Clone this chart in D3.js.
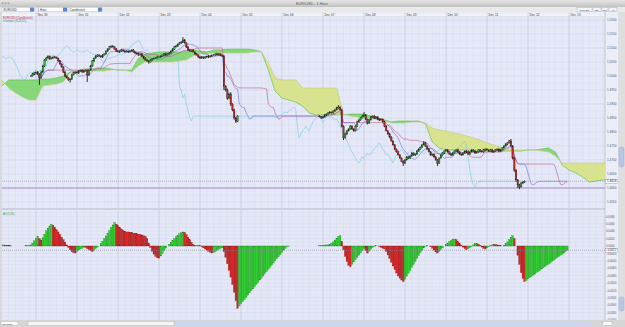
<!DOCTYPE html><html><meta charset="UTF-8">
<title>EUR/USD - 1 Hour</title>
<style>
body { margin: 0; overflow: hidden; background: #fff; }
text { font-family: "Liberation Sans", "DejaVu Sans", sans-serif; }
</style>
<script src="https://cdn.jsdelivr.net/npm/d3@7/dist/d3.min.js"></script>
<svg width="625" height="327"></svg>
<script>

// EUR/USD 1 hour, prices in pips above 1.4000, hours counted from Nov 29 2009 00:00 (GMT)
var week1Start = 21;
var week1Close = [
  1000,1007,1011,1014,1007,993,1014,1036,1057,1064,1071,1061,
  1064,1068,1066,1064,1054,1043,1032,1014,1000,993,986,989,
  1004,1011,1014,1011,1018,1021,1014,1018,1021,1004,1021,1036,
  1054,1064,1071,1075,1071,1068,1075,1079,1089,1096,1104,1107,
  1104,1096,1089,1086,1089,1093,1089,1086,1089,1086,1089,1093,
  1086,1082,1079,1075,1079,1071,1064,1057,1054,1050,1057,1061,
  1064,1064,1068,1068,1071,1075,1079,1075,1079,1082,1089,1096,
  1104,1107,1114,1118,1121,1129,1118,1104,1093,1089,1093,1086,
  1079,1075,1068,1064,1068,1064,1068,1071,1068,1071,1075,1075,
  1079,1075,1079,1075,1071,964,950,921,936,900,879,850,
  839,857];
var week1Up = [
  3,4,3,2,4,3,5,4,3,4,3,2, 3,2,4,3,2,3,2,3,4,2,3,3,
  4,3,2,4,3,2,3,4,2,3,3,4, 3,2,4,3,2,4,3,2,3,4,3,2,
  3,2,4,3,2,3,2,4,3,2,3,2, 3,2,3,4,2,3,2,3,4,2,3,2,
  2,3,4,2,3,2,3,4,2,3,3,4, 3,4,2,3,4,10,3,2,3,4,2,3,
  2,3,2,4,3,2,3,2,4,3,2,3, 2,4,3,2,3,4,3,5,4,6,3,4,
  4,3];
var week1Down = [
  3,2,4,3,2,25,3,2,4,3,2,3, 2,3,3,2,4,3,2,3,4,2,3,9,
  3,2,3,2,4,3,2,3,2,25,3,2, 3,4,2,3,2,3,4,2,3,3,2,4,
  3,2,3,2,4,3,2,3,2,4,3,2, 3,4,2,3,2,3,4,2,3,6,2,3,
  2,3,2,4,3,2,3,4,2,3,2,3, 3,2,3,2,4,3,2,4,3,2,3,2,
  3,2,4,3,2,3,2,3,4,2,3,2, 3,2,3,4,3,14,5,6,4,7,5,6,
  7,4];

var week2Start = 190;
var week2Close = [
  854,850,854,861,864,868,871,868,875,879,886,889,
  879,821,779,793,804,811,821,811,804,821,836,843,
  850,857,861,846,832,843,854,857,850,854,846,843,
  846,836,821,804,793,782,768,754,739,729,718,707,
  696,689,700,711,707,714,725,718,721,732,739,746,
  754,761,750,739,729,718,721,711,700,689,707,718,
  725,732,736,729,721,718,725,732,736,729,721,718,
  725,732,729,721,729,736,732,725,729,736,732,729,
  736,739,736,732,736,729,732,736,739,732,736,743,
  750,757,761,768,750,707,664,629,611,604,618,621,
  624];
var week2Up = [
  3,2,4,3,2,3,4,2,3,3,4,7, 3,4,3,5,3,2,4,3,2,3,4,3,
  3,4,10,3,2,4,3,2,4,3,2,3, 3,2,4,3,2,4,3,2,3,2,4,3,
  2,3,4,3,2,4,3,2,3,4,3,2, 3,7,3,2,4,3,2,3,4,3,2,3,
  3,2,4,3,2,3,4,2,3,4,3,2, 3,2,3,4,2,3,2,4,3,2,3,2,
  4,2,3,2,3,4,2,3,2,3,4,2, 3,4,2,3,7,3,4,3,2,4,3,2,
  3];
var week2Down = [
  2,3,2,3,4,2,3,2,3,4,2,3, 3,5,8,3,4,2,3,4,3,2,3,2,
  3,2,3,4,5,3,2,3,4,2,3,4, 2,3,4,2,3,4,2,3,4,3,2,3,
  4,10,3,2,4,3,2,3,4,2,3,2, 3,2,4,3,2,3,4,3,2,10,3,2,
  3,4,2,3,2,4,3,2,3,4,2,3, 2,3,4,2,3,2,4,3,2,3,4,2,
  3,4,2,3,2,3,4,2,3,4,3,2, 2,3,4,2,3,5,6,7,11,8,3,4,
  3];
var lastHour = 335;   // weekend hours after Friday keep the last close

// Ichimoku cloud spans, one value every 4 hours from hour 0
var spanStep = 4;
var spanA = [
  961,964,986,986,986,986,986,989,989,993,1000,1014,
  1018,1021,1021,1025,1029,1025,1021,1021,1021,1064,1079,1082,
  1086,1086,1086,1086,1089,1093,1089,1086,1093,1093,1096,1096,
  1096,1096,1093,1086,1021,946,921,914,907,893,868,861,
  861,861,861,861,864,864,864,857,850,843,836,839,
  839,839,839,829,764,743,736,736,736,736,732,732,
  732,732,732,732,732,732,736,736,739,743,729,682,
  664,654,639,621,625,629,629];
var spanB = [
  986,986,957,939,925,914,914,964,968,971,979,1011,
  1018,1018,1018,1018,1018,1021,1025,1021,1014,1036,1050,1050,
  1050,1050,1050,1054,1057,1071,1079,1079,1082,1082,1082,1082,
  1082,1082,1086,1086,1046,993,986,986,986,957,957,957,
  957,957,957,864,857,854,850,850,843,839,832,832,
  832,836,836,832,814,807,804,796,793,786,779,771,
  761,754,746,739,736,736,736,736,732,729,714,689,
  689,689,689,689,689,689,689];

// Awesome oscillator, pips, one bar per hour from hour 4
var aoStart = 4;
var aoPips = [
  3,3,2,2,1,1,0,0,0,0,0,0, 0,0,1,1,1,3,8,14,20,25,20,16,
  22,32,41,48,54,59,56,50,44,38,31,24, 17,10,3,-4,-10,-15,-18,-19,-15,-11,-8,-6,
  -3,-4,-7,-10,-13,-15,-11,-7,-3,0,6,13, 20,27,34,42,50,57,63,59,55,50,46,42,
  40,38,38,37,36,35,34,33,32,31,30,28, 26,20,8,-4,-14,-22,-28,-32,-33,-27,-20,-13,
  -6,0,5,10,15,20,25,29,33,36,38,37, 31,24,17,10,4,1,2,2,1,-2,-5,-8,
  -11,-14,-17,-19,-18,-15,-12,-9,-7,-5,-15,-30, -48,-66,-84,-104,-125,-148,-168,-162,-156,-150,-145,-139,
  -133,-127,-121,-116,-110,-104,-98,-92,-87,-81,-75,-69, -63,-58,-52,-46,-40,-34,-29,-23,-17,-11,-6,-2,
  -1,0,0,0,0,0,0,0,0,0,0,0, 0,0,0,0,0,0,1,1,2,2,3,3,
  4,7,11,16,21,26,28,12,-10,-28,-42,-52, -56,-50,-43,-37,-31,-25,-19,-13,-7,-12,-19,-14,
  -9,-4,-1,1,0,-2,-4,-6,-8,-15,-24,-34, -44,-54,-64,-73,-81,-87,-92,-96,-90,-82,-74,-66,
  -58,-50,-42,-34,-26,-18,-11,-5,-1,1,0,-2, -6,-11,-16,-19,-15,-10,-5,0,4,8,12,15,
  18,19,17,12,7,2,-3,-7,-10,-7,-4,-1, 3,6,8,5,1,-3,-6,-8,-5,-2,1,3,
  5,4,3,2,1,0,2,6,11,17,23,28, 20,0,-25,-50,-72,-88,-96,-93,-89,-86,-83,-79,
  -76,-72,-69,-66,-62,-59,-56,-52,-49,-46,-42,-39, -35,-32,-29,-25,-22,-19,-15,-12];

var priceTicks = [1.52,1.515,1.51,1.505,1.50,1.495,1.49,1.485,1.48,1.475,1.47,1.465,1.46,1.455];
var aoTicks = [0.008,0.006,0.004,0.002,0,-0.002,-0.004,-0.006,-0.008,-0.010,-0.012,-0.014,-0.016,-0.018,-0.020];
var userLine = 1.4600;
var menus = ["EUR/USD", "1 Hour", "Candlestick"];
var buttons = ["Price Bar", "Buy", "Sell", "Alt"];

// ---------------------------------------------------------------
var svg = d3.select("svg"), W = 625, H = 327;
var L = 2, R = 605, T = 17, B = 208, T2 = 210, B2 = 320;
var t0 = Date.UTC(2009, 10, 29);
function at(h) { return new Date(t0 + h * 36e5); }
function px(v) { return 1.4 + v / 1e4; }

var x = d3.scaleUtc().domain([at(0), at(336)]).range([-5, 569]);
var y = d3.scaleLinear().domain([1.46, 1.52]).range([188, 20]);
var yAo = d3.scaleLinear().domain([0.01, -0.02]).range([209, 320]);
function xh(h) { return x(at(h)); }

// hourly series, weekend hours flat
var series = [], last = week1Close[0];
for (var h = week1Start; h <= lastHour; h++) {
  var i1 = h - week1Start, i2 = h - week2Start, o = last, c, hi, lo, live = true;
  if (i1 >= 0 && i1 < week1Close.length) {
    c = week1Close[i1]; hi = Math.max(o, c) + week1Up[i1]; lo = Math.min(o, c) - week1Down[i1];
  } else if (i2 >= 0 && i2 < week2Close.length) {
    c = week2Close[i2]; hi = Math.max(o, c) + week2Up[i2]; lo = Math.min(o, c) - week2Down[i2];
  } else { c = hi = lo = o; live = false; }
  series.push({h: h, o: o, c: c, hi: hi, lo: lo, live: live});
  last = c;
}
function midline(n) {
  return series.map(function(d, i) {
    var w = series.slice(Math.max(0, i - n + 1), i + 1);
    return {h: d.h, v: (d3.max(w, e => e.hi) + d3.min(w, e => e.lo)) / 2};
  });
}
var tenkan = midline(9), kijun = midline(26);
var chikou = series.map(d => ({h: d.h - 26, v: d.c}));
var spans = spanA.map((a, i) => ({h: i * spanStep, a: a, b: spanB[i]}));

// window chrome
var defs = svg.append("defs");
var g1 = defs.append("linearGradient").attr("id", "tb").attr("x2", 0).attr("y2", 1);
g1.append("stop").attr("offset", 0).attr("stop-color", "#e6e6e6");
g1.append("stop").attr("offset", 1).attr("stop-color", "#c2c2c2");
svg.append("rect").attr("width", W).attr("height", H).attr("fill", "#d9d9d9");
svg.append("rect").attr("width", W).attr("height", 7).attr("fill", "url(#tb)");
[2.5, 5.5, 8.5].forEach(cx => svg.append("circle").attr("cx", cx).attr("cy", 3.3).attr("r", 1.1).attr("fill", "#a9a9a9"));
svg.append("text").attr("x", 312).attr("y", 4.9).attr("text-anchor", "middle")
  .attr("font-size", 3.8).attr("fill", "#555").text("EUR/USD - 1 Hour");
svg.append("rect").attr("y", 7).attr("width", W).attr("height", 5).attr("fill", "#e9e9e9");

var mx = [2, 36, 68], mw = [32, 31, 34];
menus.forEach(function(m, i) {
  svg.append("rect").attr("x", mx[i]).attr("y", 7.6).attr("width", mw[i]).attr("height", 4)
    .attr("fill", "#fff").attr("stroke", "#999").attr("stroke-width", 0.3);
  svg.append("rect").attr("x", mx[i] + mw[i] - 4).attr("y", 7.6).attr("width", 4).attr("height", 4).attr("fill", "#5f86cc");
  svg.append("text").attr("x", mx[i] + 1.5).attr("y", 10.8).attr("font-size", 3).attr("fill", "#333").text(m);
});
var bx = [577, 593, 602, 609], bw = [15, 8, 6, 8];
buttons.forEach(function(b, i) {
  svg.append("rect").attr("x", bx[i]).attr("y", 7.8).attr("width", bw[i]).attr("height", 3.8)
    .attr("fill", "#f4f4f4").attr("stroke", "#8a8ea8").attr("stroke-width", 0.3);
  svg.append("text").attr("x", bx[i] + bw[i] / 2).attr("y", 10.6).attr("text-anchor", "middle")
    .attr("font-size", 2.4).attr("fill", "#335").text(b);
});

// plot backgrounds
svg.append("rect").attr("x", L).attr("y", 12).attr("width", R - L).attr("height", T - 12).attr("fill", "#f1f2f8");
svg.append("line").attr("x1", L).attr("x2", R).attr("y1", T).attr("y2", T).attr("stroke", "#aab").attr("stroke-width", 0.5);
svg.append("rect").attr("x", L).attr("y", T).attr("width", R - L).attr("height", B - T).attr("fill", "#e4e8f7");
svg.append("rect").attr("x", L).attr("y", T2).attr("width", R - L).attr("height", B2 - T2).attr("fill", "#e4e8f7");
svg.append("rect").attr("x", L).attr("y", B).attr("width", R - L).attr("height", T2 - B).attr("fill", "#c9cbd6");
svg.append("rect").attr("x", R).attr("y", 12).attr("width", 13).attr("height", B2 - 12).attr("fill", "#eceef7");
svg.append("line").attr("x1", R).attr("x2", R).attr("y1", 12).attr("y2", B2).attr("stroke", "#aab").attr("stroke-width", 0.6);

// grids
var minorH = d3.range(0, 361, 4).map(xh).filter(v => v > L && v < R);
var days = x.ticks(d3.utcDay.every(1)).filter(d => x(d) > L && x(d) < R);
[[T, B], [T2, B2]].forEach(function(p) {
  svg.append("g").selectAll("line").data(minorH).join("line")
    .attr("x1", d => d).attr("x2", d => d).attr("y1", p[0]).attr("y2", p[1])
    .attr("stroke", "#d8ddf0").attr("stroke-width", 0.5);
});
svg.append("g").selectAll("line").data(d3.range(1.4525, 1.5225, 0.0025)).join("line")
  .attr("x1", L).attr("x2", R).attr("y1", d => y(d)).attr("y2", d => y(d))
  .attr("stroke", d => Math.abs(d * 200 - Math.round(d * 200)) < 1e-6 ? "#cdd2e8" : "#d8ddf0").attr("stroke-width", 0.5);
svg.append("g").selectAll("line").data(aoTicks.concat(d3.range(0.009, -0.0201, -0.002))).join("line")
  .attr("x1", L).attr("x2", R).attr("y1", d => yAo(d)).attr("y2", d => yAo(d))
  .attr("stroke", "#d5daee").attr("stroke-width", 0.5);
[[12, B], [T2, B2]].forEach(function(p) {
  svg.append("g").selectAll("line").data(days).join("line")
    .attr("x1", d => x(d)).attr("x2", d => x(d)).attr("y1", p[0]).attr("y2", p[1])
    .attr("stroke", "#c3c8de").attr("stroke-width", 0.6);
});
svg.append("g").selectAll("text").data(days).join("text")
  .attr("x", d => x(d) + 1.5).attr("y", 15.6).attr("font-size", 3.2).attr("fill", "#445")
  .text(d3.utcFormat("%b %d"));

// price pane
var clip = defs.append("clipPath").attr("id", "pane");
clip.append("rect").attr("x", L).attr("y", T).attr("width", R - L).attr("height", B - T);
var pane = svg.append("g").attr("clip-path", "url(#pane)");

var aboveB = d3.area().x(d => xh(d.h)).y0(0).y1(d => y(px(d.b)));
var belowB = d3.area().x(d => xh(d.h)).y0(400).y1(d => y(px(d.b)));
defs.append("clipPath").attr("id", "upB").append("path").attr("d", aboveB(spans));
defs.append("clipPath").attr("id", "dnB").append("path").attr("d", belowB(spans));
var band = d3.area().x(d => xh(d.h)).y0(d => y(px(d.b))).y1(d => y(px(d.a)));
pane.append("g").attr("clip-path", "url(#upB)").append("path").attr("d", band(spans)).attr("fill", "#86d77a");
pane.append("g").attr("clip-path", "url(#dnB)").append("path").attr("d", band(spans)).attr("fill", "#d9e38f");

pane.append("line").attr("x1", L).attr("x2", R).attr("y1", y(userLine)).attr("y2", y(userLine))
  .attr("stroke", "#a98cc8").attr("stroke-width", 1.1);
var lastClose = px(week2Close[week2Close.length - 1]);
pane.append("line").attr("x1", L).attr("x2", R).attr("y1", y(lastClose)).attr("y2", y(lastClose))
  .attr("stroke", "#8c8c9c").attr("stroke-width", 0.5).attr("stroke-dasharray", "1,1");

function drawLine(data, acc, color, w) {
  pane.append("path").datum(data).attr("fill", "none").attr("stroke", color).attr("stroke-width", w)
    .attr("d", d3.line().x(d => xh(d.h)).y(d => y(px(acc(d)))));
}
drawLine(spans, d => d.a, "#6cc05a", 0.7);
drawLine(spans, d => d.b, "#c9c878", 0.6);
drawLine(chikou, d => d.v, "#78cbe0", 0.6);
drawLine(kijun, d => d.v, "#bf5a86", 0.6);
drawLine(tenkan, d => d.v, "#6f6fd0", 0.6);

var live = series.filter(d => d.live);
pane.append("g").selectAll("line").data(live).join("line")
  .attr("x1", d => xh(d.h)).attr("x2", d => xh(d.h))
  .attr("y1", d => y(px(d.hi))).attr("y2", d => y(px(d.lo)))
  .attr("stroke", "#1b1b1b").attr("stroke-width", 0.9);
pane.append("g").selectAll("rect").data(live).join("rect")
  .attr("x", d => xh(d.h) - 0.75).attr("width", 1.5)
  .attr("y", d => y(px(Math.max(d.o, d.c))))
  .attr("height", d => Math.max(0.7, Math.abs(y(px(d.o)) - y(px(d.c)))))
  .attr("fill", d => d.c >= d.o ? "#2fb52f" : "#c42323")
  .attr("stroke", "#222").attr("stroke-width", 0.3);

svg.append("text").attr("x", 3).attr("y", 18.8).attr("font-size", 2.8).attr("fill", "#c8305a").text("EUR/USD (Candlestick)");
svg.append("text").attr("x", 3).attr("y", 21.6).attr("font-size", 2.8).attr("fill", "#3f9a4a").text("Ichimoku (9,26,52)");

// price axis
svg.append("g").selectAll("text").data(priceTicks).join("text")
  .attr("x", 607).attr("y", d => y(d) + 1.1).attr("font-size", 3.1).attr("fill", "#555")
  .text(d3.format(".4f"));
svg.append("rect").attr("x", 605.5).attr("y", y(lastClose) - 2).attr("width", 12).attr("height", 4)
  .attr("fill", "#fff").attr("stroke", "#667").attr("stroke-width", 0.3);
svg.append("text").attr("x", 607).attr("y", y(lastClose) + 1.1).attr("font-size", 3.1).attr("fill", "#222")
  .text(d3.format(".4f")(lastClose));

// AO pane
var clip2 = defs.append("clipPath").attr("id", "pane2");
clip2.append("rect").attr("x", L).attr("y", T2).attr("width", R - L).attr("height", B2 - T2);
var pane2 = svg.append("g").attr("clip-path", "url(#pane2)");
var ao = aoPips.map((v, i) => ({h: aoStart + i, v: v / 1e4}));
var col = "#2ecf2e";
ao.forEach(function(d, i) {
  if (i > 0 && d.v > ao[i - 1].v) col = "#2ecf2e";
  else if (i > 0 && d.v < ao[i - 1].v) col = "#d42626";
  d.col = col;
});
pane2.append("g").selectAll("rect").data(ao.filter(d => d.v !== 0)).join("rect")
  .attr("x", d => xh(d.h) - 0.8).attr("width", 1.6)
  .attr("y", d => Math.min(yAo(0), yAo(d.v)))
  .attr("height", d => Math.abs(yAo(d.v) - yAo(0)))
  .attr("fill", d => d.col).attr("stroke", d => d.col === "#d42626" ? "#8a1010" : "#1a8a1a").attr("stroke-width", 0.3);
var aoLast = ao[ao.length - 1].v;
pane2.append("line").attr("x1", L).attr("x2", R).attr("y1", yAo(aoLast)).attr("y2", yAo(aoLast))
  .attr("stroke", "#8c8c9c").attr("stroke-width", 0.5).attr("stroke-dasharray", "1,1");
svg.append("text").attr("x", 3).attr("y", 214.5).attr("font-size", 2.8).attr("fill", "#4aa04a").text("AO(5,34)");
svg.append("g").selectAll("text").data(aoTicks).join("text")
  .attr("x", 606).attr("y", d => yAo(d) + 1.1).attr("font-size", 2.8).attr("fill", "#555")
  .text(d3.format(".4f"));
svg.append("rect").attr("x", 605.5).attr("y", yAo(aoLast) - 1.8).attr("width", 12).attr("height", 3.6)
  .attr("fill", "#fff").attr("stroke", "#667").attr("stroke-width", 0.3);
svg.append("text").attr("x", 606).attr("y", yAo(aoLast) + 1).attr("font-size", 2.8).attr("fill", "#222")
  .text(d3.format(".4f")(aoLast));

// scroll bars
svg.append("rect").attr("x", 618).attr("y", 12).attr("width", 7).attr("height", B2 - 12).attr("fill", "#dedede");
svg.append("rect").attr("x", 619).attr("y", 147).attr("width", 5).attr("height", 20).attr("rx", 2).attr("fill", "#b9c7e6").attr("stroke", "#8796bb").attr("stroke-width", 0.3);
svg.append("rect").attr("x", 619).attr("y", 297).attr("width", 5).attr("height", 14).attr("rx", 2).attr("fill", "#b9c7e6").attr("stroke", "#8796bb").attr("stroke-width", 0.3);
svg.append("rect").attr("y", B2).attr("width", W).attr("height", H - B2).attr("fill", "#d6d6d6");
svg.append("rect").attr("x", 28).attr("y", 321.5).attr("width", 562).attr("height", 4).attr("fill", "#cbd5ee");
svg.append("rect").attr("x", 28).attr("y", 321.5).attr("width", 146).attr("height", 4).attr("fill", "#f6f6f6").attr("stroke", "#aaa").attr("stroke-width", 0.3);
svg.append("rect").attr("x", 1).attr("y", 321.5).attr("width", 17).attr("height", 4).attr("fill", "#fafafa").attr("stroke", "#999").attr("stroke-width", 0.3);
svg.append("text").attr("x", 2).attr("y", 324.6).attr("font-size", 2.5).attr("fill", "#333").text("Ichi Study");
svg.append("rect").attr("x", 603).attr("y", 321.5).attr("width", 9).attr("height", 4).attr("fill", "#fafafa").attr("stroke", "#999").attr("stroke-width", 0.3);

</script>
